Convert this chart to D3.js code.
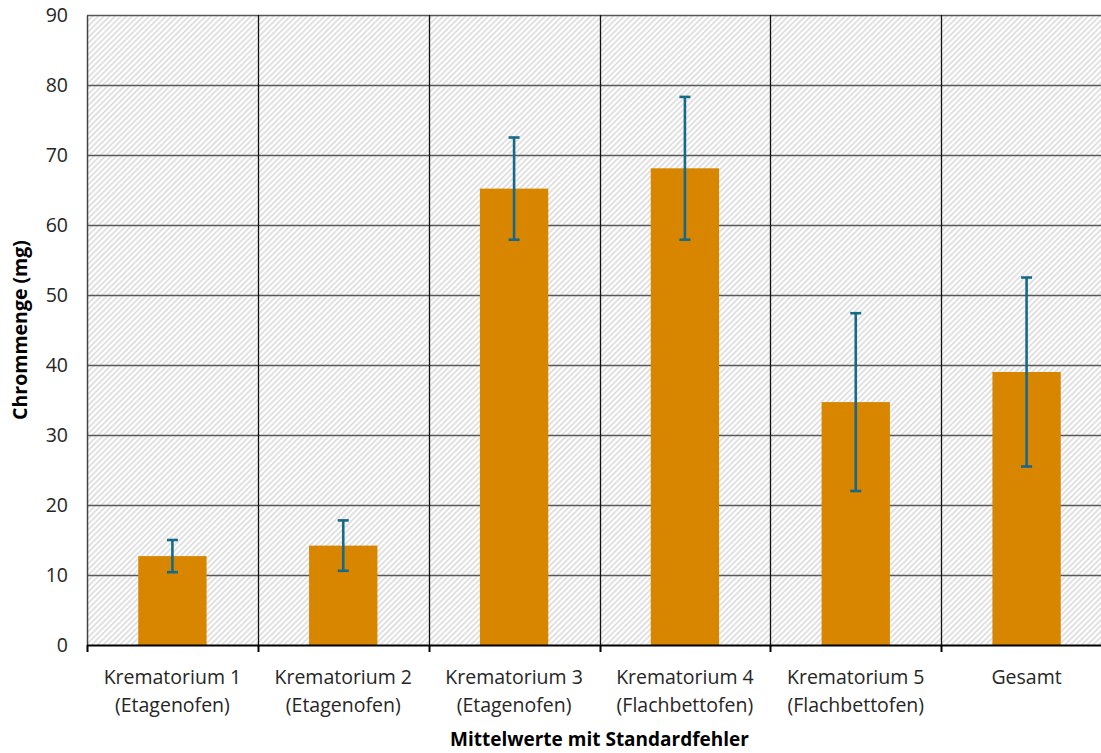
<!DOCTYPE html>
<html>
<head>
<meta charset="utf-8">
<script src="https://cdn.jsdelivr.net/npm/d3@7/dist/d3.min.js"></script>
<style>
  html, body { margin: 0; padding: 0; background: #fff; overflow: hidden; }
  svg { display: block; font-family: "Open Sans", "Noto Sans", sans-serif; }
</style>
</head>
<body>
<svg id="chart" width="1101" height="753"></svg>
<script>
// Chromium amounts per crematorium: mean and standard error (mg)
const categoriesLine1 = ["Krematorium 1", "Krematorium 2", "Krematorium 3", "Krematorium 4", "Krematorium 5", "Gesamt"];
const categoriesLine2 = ["(Etagenofen)", "(Etagenofen)", "(Etagenofen)", "(Flachbettofen)", "(Flachbettofen)", ""];
const means = [12.7, 14.2, 65.2, 68.1, 34.7, 39.0];
const stdErrors = [2.3, 3.6, 7.3, 10.2, 12.7, 13.5];
const yTicks = [0, 10, 20, 30, 40, 50, 60, 70, 80, 90];
const yTitle = "Chrommenge (mg)";
const xTitle = "Mittelwerte mit Standardfehler";

const svg = d3.select("#chart");
const plot = { left: 87, top: 15, right: 1112, bottom: 645 };

const x = d3.scaleBand()
  .domain(d3.range(categoriesLine1.length))
  .range([plot.left, plot.right])
  .paddingInner(0).paddingOuter(0);

const y = d3.scaleLinear().domain([0, 90]).range([plot.bottom, plot.top]);

// diagonal hatch fill for the plot background
const defs = svg.append("defs");
const pat = defs.append("pattern")
  .attr("id", "hatch")
  .attr("patternUnits", "userSpaceOnUse")
  .attr("width", 4).attr("height", 4)
  .attr("patternTransform", "rotate(45)");
pat.append("rect").attr("width", 4).attr("height", 4).attr("fill", "#ffffff");
pat.append("rect").attr("width", 1.7).attr("height", 4).attr("fill", "#dcdcdc");

svg.append("rect")
  .attr("x", plot.left).attr("y", plot.top)
  .attr("width", plot.right - plot.left).attr("height", plot.bottom - plot.top)
  .attr("fill", "url(#hatch)");

// horizontal gridlines
svg.append("g")
  .selectAll("line")
  .data(yTicks.filter(d => d > 0))
  .join("line")
  .attr("x1", plot.left).attr("x2", plot.right)
  .attr("y1", d => Math.round(y(d)) + 0.5).attr("y2", d => Math.round(y(d)) + 0.5)
  .attr("stroke", "#595959").attr("stroke-width", 1.6);

// vertical category separators
const bounds = d3.range(1, categoriesLine1.length + 1).map(i => plot.left + i * x.bandwidth());
svg.append("g")
  .selectAll("line")
  .data(bounds)
  .join("line")
  .attr("x1", d => Math.round(d) + 0.5).attr("x2", d => Math.round(d) + 0.5)
  .attr("y1", plot.top).attr("y2", plot.bottom)
  .attr("stroke", "#111").attr("stroke-width", 1.3);

// y axis
const yAxis = d3.axisLeft(y).tickValues(yTicks).tickSize(0).tickPadding(19);
const gy = svg.append("g").attr("transform", `translate(${plot.left},0)`).call(yAxis);
gy.select(".domain").attr("stroke", "#444").attr("stroke-width", 1.5);
gy.selectAll("text").attr("font-size", 19.5).attr("fill", "#262626").attr("font-family", "'Open Sans', sans-serif");

// bars
const barW = x.bandwidth() * 0.4;
svg.append("g")
  .selectAll("rect")
  .data(means)
  .join("rect")
  .attr("x", (d, i) => x(i) + (x.bandwidth() - barW) / 2)
  .attr("width", barW)
  .attr("y", d => y(d))
  .attr("height", d => y(0) - y(d))
  .attr("fill", "#d88500");

// error bars
const eb = svg.append("g").attr("stroke", "#17698a").attr("stroke-width", 2.6);
means.forEach((m, i) => {
  const cx = x(i) + x.bandwidth() / 2;
  const hi = y(m + stdErrors[i]), lo = y(m - stdErrors[i]);
  eb.append("line").attr("x1", cx).attr("x2", cx).attr("y1", hi).attr("y2", lo);
  eb.append("line").attr("x1", cx - 5.5).attr("x2", cx + 5.5).attr("y1", hi).attr("y2", hi);
  eb.append("line").attr("x1", cx - 5.5).attr("x2", cx + 5.5).attr("y1", lo).attr("y2", lo);
});

// x axis line and tick marks at category boundaries
svg.append("line")
  .attr("x1", plot.left).attr("x2", plot.right)
  .attr("y1", plot.bottom + 0.5).attr("y2", plot.bottom + 0.5)
  .attr("stroke", "#000").attr("stroke-width", 2);
svg.append("g")
  .selectAll("line")
  .data([plot.left].concat(bounds))
  .join("line")
  .attr("x1", d => Math.round(d) + 0.5).attr("x2", d => Math.round(d) + 0.5)
  .attr("y1", plot.bottom).attr("y2", plot.bottom + 7)
  .attr("stroke", "#000").attr("stroke-width", 2);

// category labels (two lines)
const lab = svg.append("g").attr("font-size", 19.5).attr("fill", "#262626").attr("text-anchor", "middle");
categoriesLine1.forEach((t, i) => {
  const cx = x(i) + x.bandwidth() / 2;
  lab.append("text").attr("x", cx).attr("y", 684).text(t);
  lab.append("text").attr("x", cx).attr("y", 712).text(categoriesLine2[i]);
});

// axis titles
svg.append("text")
  .attr("x", (plot.left + plot.right) / 2).attr("y", 746)
  .attr("text-anchor", "middle").attr("font-size", 19).attr("font-weight", "bold")
  .attr("fill", "#000").text(xTitle);
svg.append("text")
  .attr("transform", `translate(27,${(plot.top + plot.bottom) / 2}) rotate(-90)`)
  .attr("text-anchor", "middle").attr("font-size", 19.5).attr("font-weight", "bold")
  .attr("fill", "#000").text(yTitle);
</script>
</body>
</html>
